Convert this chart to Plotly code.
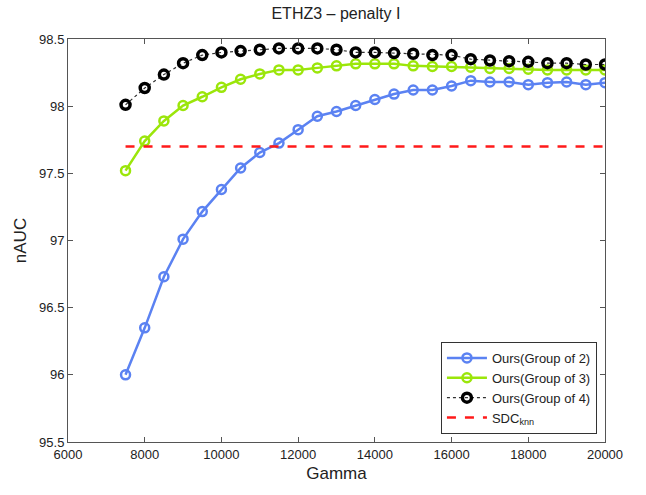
import plotly.graph_objects as go

gamma = [7500, 8000, 8500, 9000, 9500, 10000, 10500, 11000, 11500, 12000, 12500, 13000, 13500,
         14000, 14500, 15000, 15500, 16000, 16500, 17000, 17500, 18000, 18500, 19000, 19500, 20000]

group2 = [96.00, 96.35, 96.73, 97.01, 97.215, 97.38, 97.54, 97.655, 97.725, 97.825, 97.925, 97.96, 98.005,
          98.05, 98.09, 98.12, 98.12, 98.15, 98.19, 98.18, 98.18, 98.16, 98.175, 98.18, 98.16, 98.175]

group3 = [97.52, 97.74, 97.89, 98.005, 98.07, 98.14, 98.20, 98.24, 98.27, 98.27, 98.285, 98.30, 98.315,
          98.315, 98.315, 98.30, 98.295, 98.295, 98.29, 98.28, 98.28, 98.275, 98.27, 98.27, 98.27, 98.27]

group4 = [98.01, 98.135, 98.235, 98.32, 98.38, 98.40, 98.41, 98.42, 98.43, 98.43, 98.43, 98.42, 98.40,
          98.40, 98.395, 98.39, 98.38, 98.38, 98.35, 98.34, 98.335, 98.33, 98.32, 98.32, 98.31, 98.31]

sdc_x = [7500, 20000]
sdc_y = [97.70, 97.70]

x_ticks = [6000, 8000, 10000, 12000, 14000, 16000, 18000, 20000]
y_ticks = [95.5, 96, 96.5, 97, 97.5, 98, 98.5]

FONT = "Liberation Sans, Arial, sans-serif"

fig = go.Figure()
fig.add_trace(go.Scatter(
    x=gamma, y=group2, mode="lines+markers", name="Ours(Group of 2)",
    line=dict(color="#5b82f2", width=2.5),
    marker=dict(symbol="circle-open", size=9, color="#5b82f2", line=dict(width=2.5)),
))
fig.add_trace(go.Scatter(
    x=gamma, y=group3, mode="lines+markers", name="Ours(Group of 3)",
    line=dict(color="#9be60a", width=2.5),
    marker=dict(symbol="circle-open", size=9, color="#9be60a", line=dict(width=2.5)),
))
fig.add_trace(go.Scatter(
    x=gamma, y=group4, mode="lines+markers", name="Ours(Group of 4)",
    line=dict(color="#333333", width=1.2, dash="dot"),
    marker=dict(symbol="circle-open", size=9, color="black", line=dict(width=3.5)),
))
fig.add_trace(go.Scatter(
    x=sdc_x, y=sdc_y, mode="lines", name="SDC<sub>knn</sub>",
    line=dict(color="#ff1a1a", width=2.5, dash="dash"),
))

axis_common = dict(
    showline=True, linecolor="#555555", linewidth=1, mirror="ticks",
    ticks="inside", ticklen=5, tickcolor="#555555", showgrid=False, zeroline=False,
    tickfont=dict(family=FONT, size=13, color="#222222"),
)

fig.update_layout(
    width=646, height=495,
    margin=dict(l=68, r=41, t=39, b=53),
    paper_bgcolor="white", plot_bgcolor="white",
    title=dict(text="ETHZ3 \u2013 penalty I", x=0.52, xanchor="center", y=0.985, yanchor="top",
               font=dict(family=FONT, size=16, color="#222222")),
    xaxis=dict(range=[6000, 20000], tickvals=x_ticks, ticktext=[str(v) for v in x_ticks],
               title=dict(text="Gamma", font=dict(family=FONT, size=17, color="#222222"), standoff=6),
               **axis_common),
    yaxis=dict(range=[95.5, 98.5], tickvals=y_ticks, ticktext=[str(v) for v in y_ticks],
               title=dict(text="nAUC", font=dict(family=FONT, size=17, color="#222222"), standoff=8),
               **axis_common),
    legend=dict(x=0.985, y=0.02, xanchor="right", yanchor="bottom",
                bgcolor="white", bordercolor="#333333", borderwidth=1,
                font=dict(family=FONT, size=13, color="#222222"),
                tracegroupgap=0, itemwidth=40),
    showlegend=True,
)

fig.write_html("out.html")
